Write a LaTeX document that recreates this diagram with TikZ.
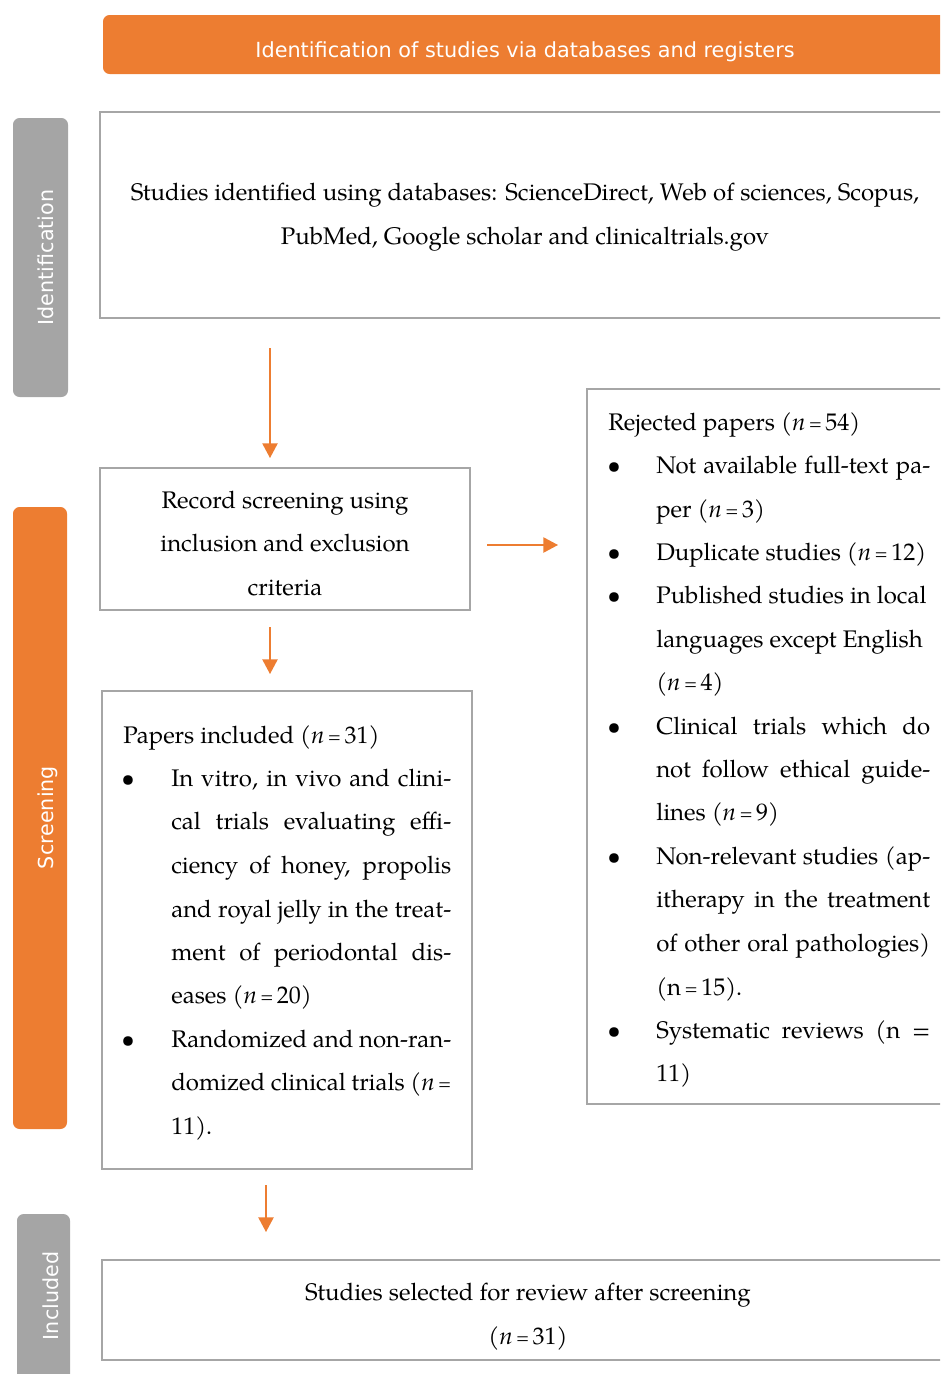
\documentclass[tikz,border=0pt]{standalone}
\usepackage{fontspec}
\setmainfont{TeX Gyre Pagella}
\newfontfamily\sidefont{DejaVu Sans}
\usetikzlibrary{arrows.meta}
\definecolor{orng}{HTML}{ED7D31}
\definecolor{bargray}{HTML}{A5A5A5}
\definecolor{boxgray}{HTML}{A6A6A6}
\newcommand\smeq{\kern2.6pt\raisebox{0.6pt}{\scalebox{0.72}{=}}\kern2.6pt}
\newcommand\nit{\textit{n}\smeq}
\newcommand\jl[1]{\makebox[210pt][s]{#1}}
\newcommand\jr[1]{\makebox[205.5pt][s]{#1}}
\begin{document}
\begin{tikzpicture}[x=0.75pt,y=-0.75pt,
  box/.style={draw=boxgray, line width=1.6pt, fill=white, anchor=north west, inner sep=0, outer sep=0},
  bar/.style={rounded corners=5pt, anchor=north west, inner sep=0, outer sep=0},
  arr/.style={draw=orng, line width=1pt, -{Triangle[width=11.5pt,length=11pt]}},
  txtl/.style={inner sep=0, anchor=base west, font={\fontsize{18}{21}\selectfont}},
  txtc/.style={inner sep=0, anchor=base, font={\fontsize{18}{21}\selectfont}},
  bul/.style={inner sep=0, anchor=base, font={\fontsize{18}{21}\selectfont}},
  side/.style={inner sep=0, anchor=base, rotate=90, text=white, font={\sidefont\fontsize{15.5}{18}\selectfont}},
]
\useasboundingbox (0,0) rectangle (940,1374);
\clip (0,0) rectangle (940,1374);

% header
\node[bar, fill=orng, minimum width=633pt, minimum height=44.25pt] (hdr) at (103,15) {};
\node[inner sep=0, anchor=base, text=white, font={\sidefont\fontsize{15.6}{18}\selectfont}] (hdrt) at (525,57) {Identification of studies via databases and registers};

% side bars
\node[bar, fill=bargray, minimum width=41.25pt, minimum height=209.25pt] (idbar) at (13,118) {};
\node[side] (idt) at (53,257.5) {Identification};
\node[bar, fill=orng, minimum width=40.5pt, minimum height=466.5pt] (scbar) at (13,507) {};
\node[side] (sct) at (53,817.5) {Screening};
\node[bar, fill=bargray, minimum width=39.75pt, minimum height=150pt] (inbar) at (17,1214) {};
\node[side] (int) at (58,1296) {Included};

% boxes
\node[box, minimum width=637.5pt, minimum height=154.5pt] (b1) at (100,112) {};
\node[box, minimum width=277.5pt, minimum height=106.5pt] (b2) at (100,468) {};
\node[box, minimum width=272.25pt, minimum height=536.25pt] (b3) at (587,389) {};
\node[box, minimum width=277.5pt, minimum height=358.5pt] (b4) at (102,691) {};
\node[box, minimum width=636pt, minimum height=75pt] (b5) at (102,1260) {};

% box 1 text
\node[txtc] (b1l1) at (525,200) {Studies identified using databases: ScienceDirect, Web of sciences, Scopus,};
\node[txtc] (b1l2) at (525,244) {PubMed, Google scholar and clinicaltrials.gov};

% box 2 text
\node[txtc] (b2l1) at (285,508) {Record screening using};
\node[txtc] (b2l2) at (285,551) {inclusion and exclusion};
\node[txtc] (b2l3) at (285,595) {criteria};

% box 3 text
\node[txtl] (r0) at (608,430) {Rejected papers (\nit54)};
\node[bul] (rb1) at (614,473) {\textbullet};
\node[txtl] (r1) at (656,473) {\jr{Not available full-text pa-}};
\node[txtl] (r2) at (656,517) {per (\nit3)};
\node[bul] (rb2) at (614,560) {\textbullet};
\node[txtl] (r3) at (656,560) {Duplicate studies (\nit12)};
\node[bul] (rb3) at (614,603) {\textbullet};
\node[txtl] (r4) at (656,603) {Published studies in local};
\node[txtl] (r5) at (656,647) {languages except English};
\node[txtl] (r6) at (656,690) {(\nit4)};
\node[bul] (rb4) at (614,734) {\textbullet};
\node[txtl] (r7) at (656,734) {\jr{Clinical trials which do}};
\node[txtl] (r8) at (656,777) {\jr{not follow ethical guide-}};
\node[txtl] (r9) at (656,820) {lines (\nit9)};
\node[bul] (rb5) at (614,864) {\textbullet};
\node[txtl] (r10) at (656,864) {\jr{Non-relevant studies (ap-}};
\node[txtl] (r11) at (656,907) {\jr{itherapy in the treatment}};
\node[txtl] (r12) at (656,951) {\jr{of other oral pathologies)}};
\node[txtl] (r13) at (656,995) {(n\smeq15).};
\node[bul] (rb6) at (614,1038) {\textbullet};
\node[txtl] (r14) at (656,1038) {\jr{Systematic reviews (n =}};
\node[txtl] (r15) at (656,1081) {11)};

% box 4 text
\node[txtl] (p0) at (123,743) {Papers included (\nit31)};
\node[bul] (pb1) at (128,786) {\textbullet};
\node[txtl] (p1) at (171,786) {\jl{In vitro, in vivo and clini-}};
\node[txtl] (p2) at (171,829) {\jl{cal trials evaluating effi-}};
\node[txtl] (p3) at (171,873) {\jl{ciency of honey, propolis}};
\node[txtl] (p4) at (171,917) {\jl{and royal jelly in the treat-}};
\node[txtl] (p5) at (171,960) {\jl{ment of periodontal dis-}};
\node[txtl] (p6) at (171,1003) {eases (\nit20)};
\node[bul] (pb2) at (128,1047) {\textbullet};
\node[txtl] (p7) at (171,1047) {\jl{Randomized and non-ran-}};
\node[txtl] (p8) at (171,1090) {\jl{domized clinical trials (\textit{n}\kern2.6pt\raisebox{0.6pt}{\scalebox{0.72}{=}}}};
\node[txtl] (p9) at (171,1134) {11).};

% box 5 text
\node[txtc] (b5l1) at (528,1300) {Studies selected for review after screening};
\node[txtc] (b5l2) at (528,1344) {(\nit31)};

% arrows
\coordinate (a1s) at (270,348);
\coordinate (a1e) at (270,458);
\coordinate (a2s) at (487,545);
\coordinate (a2e) at (558,545);
\coordinate (a3s) at (270,627);
\coordinate (a3e) at (270,674);
\coordinate (a4s) at (266,1185);
\coordinate (a4e) at (266,1232);
\draw[arr] (a1s) -- (a1e);
\draw[arr] (a2s) -- (a2e);
\draw[arr] (a3s) -- (a3e);
\draw[arr] (a4s) -- (a4e);
\end{tikzpicture}
\end{document}
